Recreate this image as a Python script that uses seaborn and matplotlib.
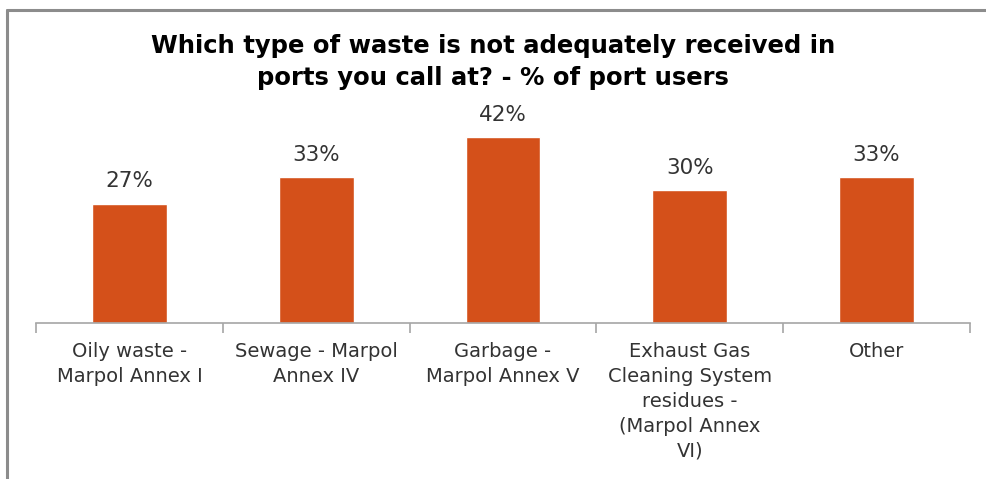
import matplotlib
matplotlib.use('Agg')
import matplotlib.pyplot as plt
import seaborn as sns
import pandas as pd
from matplotlib.lines import Line2D

# Chart data
categories = [
    'Oily waste -\nMarpol Annex I',
    'Sewage - Marpol\nAnnex IV',
    'Garbage -\nMarpol Annex V',
    'Exhaust Gas\nCleaning System\nresidues -\n(Marpol Annex\nVI)',
    'Other',
]
percent = [27, 33, 42, 30, 33]
title = 'Which type of waste is not adequately received in\nports you call at? - % of port users'

df = pd.DataFrame({'category': categories, 'percent': percent})

sns.set_style('white')
plt.rcParams['font.family'] = ['DejaVu Sans']

fig = plt.figure(figsize=(9.87, 4.79), dpi=100)
ax = fig.add_axes([36 / 987, 1 - 323 / 479, 934 / 987, (323 - 124) / 479])

sns.barplot(data=df, x='category', y='percent', color='#D4501A', width=0.40,
            saturation=1, ax=ax)

ax.set_ylim(0, 45)
ax.set_xlim(-0.5, len(categories) - 0.5)
ax.bar_label(ax.containers[0], fmt='%d%%', padding=9, fontsize=15.5, color='#333333')

# axis styling
for side in ['top', 'right', 'left']:
    ax.spines[side].set_visible(False)
ax.spines['bottom'].set_color('#a6a6a6')
ax.spines['bottom'].set_linewidth(1.2)
ax.set_yticks([])
ax.set_xlabel('')
ax.set_ylabel('')
ax.tick_params(axis='x', which='major', length=0, pad=14, labelsize=14,
               labelcolor='#333333')
for lbl in ax.get_xticklabels():
    lbl.set_linespacing(1.38)
    lbl.set_verticalalignment('top')
ax.set_xticks([i - 0.5 for i in range(len(categories) + 1)], minor=True)
ax.tick_params(axis='x', which='minor', bottom=True, length=7, width=1.2,
               color='#a6a6a6', direction='out')

fig.text(493 / 987, 1 - 62 / 479, title, ha='center', va='center',
         fontsize=17.5, fontweight='bold', color='black', linespacing=1.45)

# outer frame (top and left border)
fig.add_artist(Line2D([6.5 / 987, 1], [1 - 9.5 / 479, 1 - 9.5 / 479],
                      transform=fig.transFigure, color='#8c8c8c', lw=2.2))
fig.add_artist(Line2D([6.5 / 987, 6.5 / 987], [0, 1 - 9.5 / 479],
                      transform=fig.transFigure, color='#8c8c8c', lw=2.2))

fig.savefig('out.png', dpi=100)
